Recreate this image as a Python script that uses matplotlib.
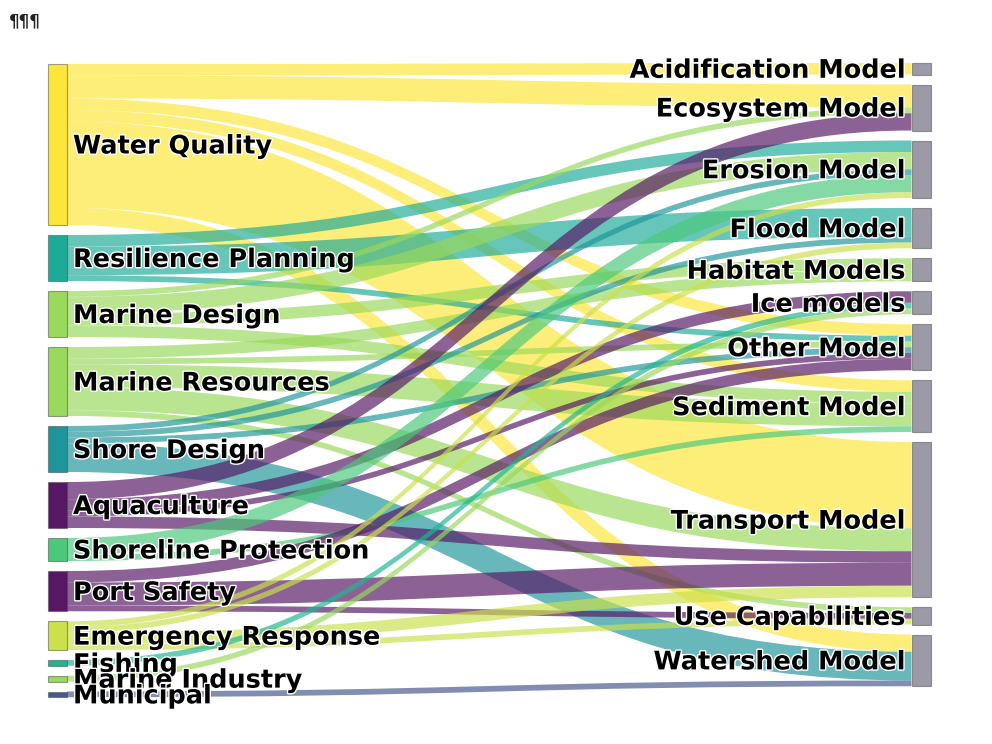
import matplotlib
matplotlib.use('Agg')
import matplotlib.pyplot as plt
from matplotlib.path import Path
from matplotlib.patches import PathPatch, Rectangle
import matplotlib.patheffects as pe

# nodes, left column (sources) and right column (models)
left_nodes = ['Water Quality', 'Resilience Planning', 'Marine Design', 'Marine Resources',
              'Shore Design', 'Aquaculture', 'Shoreline Protection', 'Port Safety',
              'Emergency Response', 'Fishing', 'Marine Industry', 'Municipal']
right_nodes = ['Acidification Model', 'Ecosystem Model', 'Erosion Model', 'Flood Model',
               'Habitat Models', 'Ice models', 'Other Model', 'Sediment Model',
               'Transport Model', 'Use Capabilities', 'Watershed Model']
left_colors = ['#fde63a', '#1dab98', '#99d95c', '#99d95c', '#1f959b', '#561864',
               '#4cc87a', '#561864', '#cbe04a', '#1fb592', '#99d95c', '#46598c']
right_color = '#9c9aa7'

# links: source index, target index, value
link_source = [0, 0, 0, 0, 0, 0,
               1, 1, 1,
               2, 2, 2, 2,
               3, 3, 3, 3, 3,
               4, 4, 4, 4,
               5, 5, 5, 5,
               6, 6,
               7, 7, 7,
               8, 8, 8, 8,
               9, 10, 11]
link_target = [0, 1, 6, 7, 8, 10,
               2, 3, 6,
               1, 2, 4, 7,
               4, 6, 7, 8, 9,
               2, 3, 6, 10,
               1, 5, 6, 8,
               2, 7,
               6, 8, 9,
               2, 3, 8, 9,
               5, 5, 10]
link_value = [2, 4, 2, 2, 15, 3,
              2, 5, 1,
              1, 3, 2, 2,
              2, 1, 4, 4, 1,
              1, 1, 1, 5,
              3, 2, 1, 2,
              3, 1,
              2, 4, 1,
              1, 1, 2, 1,
              1, 1, 1]

# layout in pixels
scale = 5.75
pad = 10.0
node_w = 19
x_left, x_right = 48, 911.5
top_left, top_right = 64, 63

left_tot = [0] * len(left_nodes)
right_tot = [0] * len(right_nodes)
for s, t, v in zip(link_source, link_target, link_value):
    left_tot[s] += v
    right_tot[t] += v

left_y = []
y = top_left
for v in left_tot:
    left_y.append(y)
    y += v * scale + pad
right_y = []
y = top_right
for v in right_tot:
    right_y.append(y)
    y += v * scale + pad

fig = plt.figure(figsize=(9.92, 7.44), dpi=100)
ax = fig.add_axes([0, 0, 1, 1])
ax.set_xlim(0, 992)
ax.set_ylim(744, 0)
ax.axis('off')

# offsets of links inside each node (sorted by the node on the other side)
links = list(zip(link_source, link_target, link_value))
src_off = {}
off = list(left_y)
for i in sorted(range(len(links)), key=lambda k: (links[k][0], links[k][1])):
    s, t, v = links[i]
    src_off[i] = off[s]
    off[s] += v * scale
tgt_off = {}
off = list(right_y)
for i in sorted(range(len(links)), key=lambda k: (links[k][1], links[k][0])):
    s, t, v = links[i]
    tgt_off[i] = off[t]
    off[t] += v * scale

x0 = x_left + node_w
x1 = x_right
xm = (x0 + x1) / 2
for i, (s, t, v) in enumerate(links):
    w = v * scale
    a, b = src_off[i], tgt_off[i]
    verts = [(x0, a), (xm, a), (xm, b), (x1, b),
             (x1, b + w), (xm, b + w), (xm, a + w), (x0, a + w), (x0, a)]
    codes = [Path.MOVETO, Path.CURVE4, Path.CURVE4, Path.CURVE4,
             Path.LINETO, Path.CURVE4, Path.CURVE4, Path.CURVE4, Path.CLOSEPOLY]
    ax.add_patch(PathPatch(Path(verts, codes), facecolor=left_colors[s],
                           edgecolor='none', alpha=0.68, zorder=1))

halo = [pe.withStroke(linewidth=2, foreground='white')]
for name, y, v, c in zip(left_nodes, left_y, left_tot, left_colors):
    ax.add_patch(Rectangle((x_left, y), node_w, v * scale, facecolor=c,
                           edgecolor=(0.27, 0.27, 0.27, 0.5), lw=0.8, zorder=2))
    ax.text(x_left + node_w + 6, y + v * scale / 2 + 2, name, ha='left', va='center',
            fontsize=18.4, fontweight='bold', color='black', path_effects=halo, zorder=3)
for name, y, v in zip(right_nodes, right_y, right_tot):
    ax.add_patch(Rectangle((x_right, y), node_w, v * scale, facecolor=right_color,
                           edgecolor=(0.27, 0.27, 0.27, 0.5), lw=0.8, zorder=2))
    ax.text(x_right - 6, y + v * scale / 2 + 2, name, ha='right', va='center',
            fontsize=18.4, fontweight='bold', color='black', path_effects=halo, zorder=3)

ax.text(9, 21, '¶¶¶', fontsize=12, fontweight='bold', color='#222222', ha='left', va='center')

fig.savefig('out.png', dpi=100)
